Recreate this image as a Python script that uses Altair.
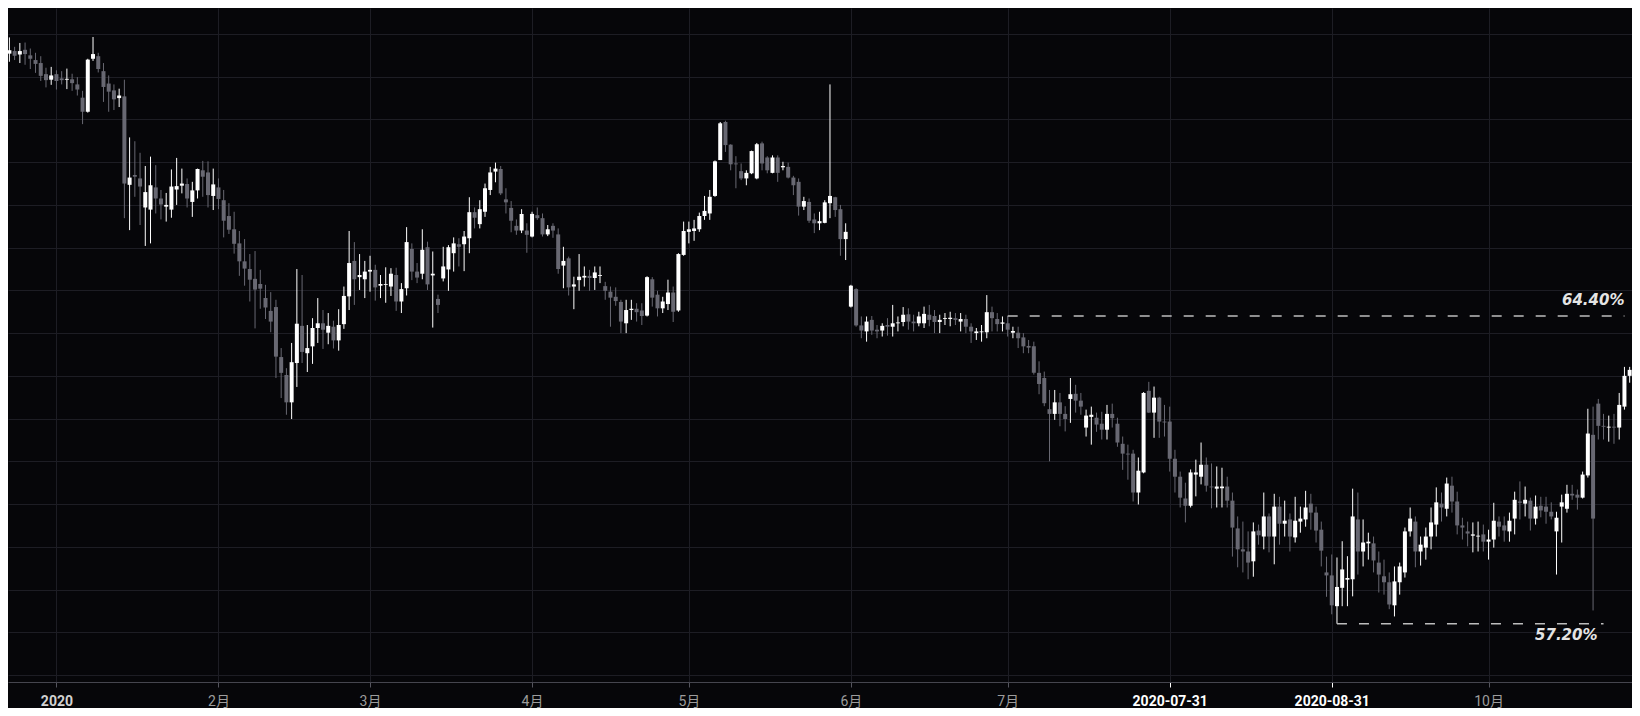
import altair as alt
import pandas as pd

# ---- daily candles (open, high, low, close) in percent, one list per month ----
ohlc_2019_12 = [  # from Dec 22
    (70.15, 70.71, 70.04, 70.60), (70.54, 70.92, 70.35, 70.62), (70.60, 70.70, 70.39, 70.49),
    (70.52, 70.79, 70.32, 70.60), (70.63, 70.80, 70.28, 70.53), (70.50, 70.66, 70.18, 70.42),
    (70.39, 70.56, 70.09, 70.30), (70.32, 70.48, 69.90, 70.02), (70.06, 70.21, 69.75, 69.92),
    (69.93, 70.23, 69.81, 70.03),
]
ohlc_2020_01 = [
    (70.06, 70.15, 69.70, 69.90), (69.96, 70.13, 69.82, 69.92), (69.93, 70.19, 69.71, 69.95),
    (69.94, 70.07, 69.67, 69.85), (69.82, 69.99, 69.56, 69.70), (69.51, 69.67, 68.89, 69.18),
    (69.18, 70.42, 69.16, 70.40), (70.42, 70.93, 70.37, 70.53), (70.48, 70.56, 70.10, 70.18),
    (70.13, 70.32, 69.41, 69.76), (69.84, 70.03, 69.18, 69.65), (69.68, 69.82, 69.22, 69.47),
    (69.50, 69.72, 69.29, 69.56), (69.54, 69.93, 66.69, 67.50), (67.47, 68.58, 66.41, 67.64),
    (67.70, 68.49, 67.19, 67.66), (67.62, 68.22, 66.53, 67.43), (66.94, 67.91, 66.04, 67.30),
    (66.89, 68.13, 66.10, 67.46), (67.41, 67.93, 66.80, 67.15), (67.15, 67.35, 66.66, 67.01),
    (66.96, 67.28, 66.61, 67.00), (66.89, 67.83, 66.70, 67.43), (67.36, 68.10, 67.00, 67.44),
    (67.45, 67.85, 67.27, 67.50), (67.49, 67.62, 66.94, 67.15), (67.07, 67.54, 66.72, 67.34),
    (67.34, 67.85, 67.15, 67.84), (67.81, 68.03, 67.19, 67.66), (67.76, 68.02, 66.94, 67.23),
    (67.21, 67.85, 66.88, 67.48),
]
ohlc_2020_02 = [
    (67.41, 67.62, 66.90, 67.14), (67.11, 67.35, 66.24, 66.63), (66.74, 67.04, 66.32, 66.42),
    (66.43, 66.84, 65.86, 66.09), (66.10, 66.39, 65.34, 65.68), (65.68, 66.20, 65.11, 65.51),
    (65.50, 65.85, 64.74, 65.25), (65.27, 65.92, 64.11, 65.02), (65.15, 65.48, 64.57, 65.04),
    (64.82, 65.13, 64.33, 64.60), (64.52, 64.96, 64.02, 64.27), (64.61, 64.78, 62.95, 63.45),
    (63.44, 63.65, 62.48, 63.07), (63.02, 63.18, 62.09, 62.38), (62.38, 63.77, 61.99, 63.32),
    (63.30, 65.50, 62.74, 64.22), (64.17, 65.36, 63.30, 63.56), (63.53, 64.19, 63.09, 63.65),
    (63.69, 64.35, 63.28, 64.12), (64.12, 64.82, 63.77, 64.23), (64.23, 64.54, 63.63, 64.08),
    (64.01, 64.47, 63.74, 64.17), (64.15, 64.29, 63.64, 63.83), (63.83, 64.56, 63.59, 64.19),
    (64.21, 65.09, 64.10, 64.87), (64.86, 66.39, 64.54, 65.64), (65.69, 66.13, 64.66, 65.26),
    (65.31, 65.85, 65.01, 65.36), (65.26, 65.69, 64.82, 65.44),
]
ohlc_2020_03 = [
    (65.44, 65.81, 64.97, 65.48), (65.48, 65.60, 64.76, 65.07), (65.11, 65.36, 64.82, 65.15),
    (65.13, 65.54, 64.71, 65.15), (65.09, 65.52, 64.87, 65.39), (65.36, 65.53, 64.52, 64.74),
    (64.74, 65.17, 64.47, 65.03), (65.05, 66.48, 64.88, 66.13), (65.97, 66.10, 65.24, 65.44),
    (65.44, 65.64, 65.17, 65.30), (65.39, 66.43, 65.26, 65.95), (66.01, 66.14, 65.01, 65.14),
    (65.35, 65.91, 64.13, 65.39), (64.80, 64.90, 64.47, 64.66), (65.28, 66.02, 65.21, 65.56),
    (65.49, 66.06, 64.99, 66.01), (65.87, 66.24, 65.44, 66.10), (66.08, 66.22, 65.56, 66.02),
    (66.08, 66.39, 65.45, 66.26), (66.22, 67.18, 65.87, 66.83), (66.83, 66.94, 66.45, 66.70),
    (66.55, 67.11, 66.45, 66.90), (66.84, 67.50, 66.72, 67.39), (67.35, 67.89, 67.23, 67.76),
    (67.78, 67.99, 67.53, 67.85), (67.84, 67.91, 67.23, 67.27), (67.13, 67.39, 66.80, 67.06),
    (66.93, 67.09, 66.36, 66.63), (66.51, 66.66, 66.30, 66.40), (66.40, 66.90, 66.34, 66.79),
    (66.40, 66.57, 65.88, 66.30),
]
ohlc_2020_04 = [
    (66.26, 66.84, 66.24, 66.79), (66.76, 66.94, 66.65, 66.69), (66.69, 66.80, 66.26, 66.31),
    (66.31, 66.53, 66.27, 66.43), (66.51, 66.57, 66.23, 66.40), (66.31, 66.45, 65.39, 65.50),
    (65.58, 66.02, 65.05, 65.69), (65.75, 65.79, 64.88, 65.07), (65.09, 65.32, 64.56, 65.14),
    (65.24, 65.85, 64.99, 65.32), (65.30, 65.56, 65.09, 65.34), (65.34, 65.48, 64.99, 65.29),
    (65.29, 65.56, 65.01, 65.42), (65.34, 65.56, 65.17, 65.36), (65.10, 65.20, 64.78, 64.99),
    (64.97, 65.09, 64.15, 64.83), (64.85, 65.07, 64.64, 64.75), (64.73, 64.78, 64.00, 64.27),
    (64.23, 64.78, 64.00, 64.54), (64.54, 64.78, 64.31, 64.57), (64.57, 64.70, 64.27, 64.49),
    (64.53, 64.70, 64.19, 64.40), (64.41, 65.33, 64.39, 65.31), (65.26, 65.31, 64.62, 64.83),
    (64.90, 64.99, 64.39, 64.58), (64.58, 64.85, 64.47, 64.74), (64.68, 65.25, 64.54, 64.95),
    (64.95, 65.09, 64.26, 64.50), (64.53, 65.87, 64.50, 65.85), (65.83, 66.61, 65.81, 66.39),
]
ohlc_2020_05 = [
    (66.37, 66.61, 66.10, 66.43), (66.39, 66.65, 66.16, 66.45), (66.43, 66.82, 66.37, 66.74),
    (66.74, 67.21, 66.65, 66.86), (66.80, 67.35, 66.65, 67.19), (67.21, 68.04, 67.19, 68.02),
    (68.05, 68.94, 68.05, 68.91), (68.94, 68.97, 68.24, 68.40), (68.41, 68.42, 67.81, 67.95),
    (67.97, 68.14, 67.39, 67.95), (67.79, 67.97, 67.58, 67.62), (67.62, 67.81, 67.46, 67.75),
    (67.74, 68.27, 67.72, 68.26), (67.62, 68.45, 67.60, 68.42), (68.44, 68.48, 67.81, 67.97),
    (68.11, 68.14, 67.74, 67.81), (67.75, 68.16, 67.74, 68.11), (68.11, 68.16, 67.54, 67.75),
    (67.88, 68.01, 67.81, 67.91), (67.89, 67.99, 67.62, 67.64), (67.64, 67.68, 67.23, 67.46),
    (67.54, 67.62, 66.75, 66.96), (66.96, 67.19, 66.88, 67.09), (67.07, 67.15, 66.58, 66.63),
    (66.66, 66.80, 66.34, 66.57), (66.57, 66.84, 66.41, 66.62), (66.58, 67.11, 66.57, 67.06),
    (67.04, 69.82, 66.69, 67.21), (67.18, 67.19, 66.72, 66.88), (66.90, 67.00, 65.81, 66.20),
    (66.20, 66.57, 65.71, 66.37),
]
ohlc_2020_06 = [
    (64.62, 65.13, 64.60, 65.11), (65.03, 65.05, 64.15, 64.18), (64.18, 64.39, 63.88, 64.06),
    (64.04, 64.39, 63.80, 64.27), (64.31, 64.40, 63.96, 64.06), (64.08, 64.19, 63.88, 64.04),
    (64.06, 64.23, 63.92, 64.17), (64.19, 64.35, 63.94, 64.15), (64.15, 64.66, 63.92, 64.23),
    (64.23, 64.39, 64.04, 64.25), (64.26, 64.61, 64.16, 64.43), (64.44, 64.58, 64.08, 64.27),
    (64.27, 64.43, 64.04, 64.23), (64.23, 64.50, 64.16, 64.39), (64.23, 64.62, 64.12, 64.45),
    (64.43, 64.66, 64.16, 64.31), (64.40, 64.54, 64.00, 64.26), (64.26, 64.43, 64.00, 64.31),
    (64.33, 64.47, 64.19, 64.35), (64.33, 64.50, 64.16, 64.36), (64.35, 64.47, 64.19, 64.31),
    (64.27, 64.47, 64.04, 64.33), (64.33, 64.43, 64.00, 64.15), (64.15, 64.23, 63.77, 64.04),
    (64.00, 64.12, 63.84, 64.04), (64.02, 64.19, 63.80, 64.04), (64.02, 64.89, 63.88, 64.49),
    (64.49, 64.62, 64.04, 64.35), (64.33, 64.47, 64.04, 64.21), (64.22, 64.39, 64.04, 64.25),
]
ohlc_2020_07 = [
    (64.23, 64.40, 63.92, 64.08), (64.01, 64.15, 63.88, 64.05), (64.01, 64.15, 63.65, 63.88),
    (63.90, 64.00, 63.53, 63.69), (63.70, 63.84, 63.53, 63.66), (63.69, 63.80, 63.03, 63.07),
    (63.07, 63.34, 62.57, 62.81), (62.95, 63.10, 62.29, 62.36), (62.22, 62.67, 61.00, 62.11),
    (62.11, 62.67, 61.97, 62.38), (62.38, 62.60, 61.82, 62.11), (62.11, 62.29, 61.70, 61.99),
    (62.46, 62.95, 61.90, 62.57), (62.58, 62.79, 62.14, 62.42), (62.42, 62.60, 62.09, 62.28),
    (61.79, 62.21, 61.58, 62.07), (62.04, 62.28, 61.39, 62.09), (62.02, 62.14, 61.69, 61.86),
    (61.88, 62.16, 61.51, 61.74), (61.74, 62.32, 61.51, 62.11), (62.11, 62.35, 61.79, 62.01),
    (61.88, 62.02, 61.34, 61.44), (61.41, 61.58, 60.80, 61.18), (61.18, 61.39, 60.57, 61.16),
    (61.18, 61.27, 60.06, 60.27), (60.27, 61.09, 59.99, 60.78), (60.74, 62.62, 60.72, 62.60),
    (62.65, 62.86, 62.13, 62.14), (62.14, 62.75, 61.55, 62.49), (62.49, 62.51, 61.55, 61.93),
    (61.93, 62.32, 61.58, 61.91),
]
ohlc_2020_08 = [
    (61.93, 62.28, 60.76, 61.06), (61.06, 61.27, 60.27, 60.64), (60.64, 60.76, 59.92, 60.15),
    (60.13, 60.50, 59.57, 59.96), (59.96, 60.81, 59.92, 60.74), (60.69, 61.04, 60.18, 60.74),
    (60.64, 61.44, 60.46, 60.92), (60.92, 61.09, 60.29, 60.43), (60.41, 60.95, 59.90, 60.39),
    (60.36, 60.88, 59.92, 60.41), (60.37, 60.85, 59.92, 60.41), (60.41, 60.64, 59.92, 60.08),
    (60.08, 60.27, 58.77, 59.45), (59.43, 59.71, 58.52, 58.94), (58.94, 59.59, 58.40, 58.89),
    (58.89, 59.36, 58.24, 58.63), (58.66, 59.57, 58.30, 59.36), (59.38, 59.52, 59.05, 59.27),
    (59.24, 60.27, 58.94, 59.71), (59.71, 59.78, 58.87, 59.24), (59.24, 60.24, 58.59, 59.94),
    (59.94, 60.17, 59.05, 59.54), (59.54, 60.08, 59.24, 59.61), (59.64, 59.78, 58.89, 59.24),
    (59.22, 60.17, 59.10, 59.61), (59.59, 59.94, 59.33, 59.66), (59.64, 60.31, 59.47, 59.92),
    (60.01, 60.24, 59.40, 59.80), (59.80, 59.94, 59.10, 59.38), (59.40, 59.59, 58.54, 58.91),
    (58.40, 58.77, 57.83, 58.33),
]
ohlc_2020_09 = [
    (58.33, 58.82, 57.42, 57.63), (57.61, 58.75, 57.20, 58.06), (58.04, 59.13, 57.61, 58.47),
    (58.23, 58.78, 57.61, 58.27), (58.24, 60.36, 57.84, 59.71), (59.64, 60.27, 58.35, 58.89),
    (58.89, 59.64, 58.54, 59.10), (59.08, 59.33, 58.70, 59.12), (59.08, 59.24, 58.40, 58.68),
    (58.63, 58.89, 57.93, 58.35), (58.31, 58.70, 57.88, 58.17), (58.17, 58.40, 57.54, 57.65),
    (57.63, 58.54, 57.37, 58.19), (58.17, 58.63, 57.88, 58.54), (58.40, 59.45, 58.28, 59.36),
    (59.36, 59.92, 59.24, 59.66), (59.59, 59.71, 58.52, 58.89), (58.89, 59.24, 58.56, 59.05),
    (58.98, 59.45, 58.70, 59.24), (59.24, 59.92, 58.94, 59.57), (59.52, 60.39, 59.24, 60.04),
    (60.01, 60.27, 59.59, 59.92), (59.89, 60.62, 59.71, 60.48), (60.43, 60.64, 59.80, 60.06),
    (60.06, 60.29, 59.29, 59.50), (59.50, 59.68, 59.17, 59.45), (59.36, 59.59, 59.01, 59.31),
    (59.26, 59.57, 58.87, 59.29), (59.24, 59.59, 58.89, 59.26), (59.29, 59.52, 58.89, 59.12),
]
ohlc_2020_10 = [
    (59.12, 59.40, 58.70, 59.17), (59.17, 60.03, 58.98, 59.61), (59.59, 59.71, 59.24, 59.47),
    (59.50, 59.71, 59.12, 59.38), (59.36, 59.80, 59.12, 59.61), (59.66, 60.29, 59.29, 60.10),
    (60.06, 60.53, 59.64, 60.03), (60.01, 60.41, 59.71, 60.10), (60.08, 60.15, 59.38, 59.66),
    (59.66, 60.20, 59.52, 59.94), (59.96, 60.17, 59.69, 59.85), (59.94, 60.17, 59.54, 59.82),
    (59.82, 60.04, 59.64, 59.71), (59.36, 59.82, 58.35, 59.68), (59.94, 60.22, 59.10, 60.04),
    (59.89, 60.45, 59.80, 60.24), (60.24, 60.45, 60.10, 60.20), (60.22, 60.34, 59.87, 60.15),
    (60.15, 60.76, 60.13, 60.69), (60.67, 62.23, 60.62, 61.65), (61.62, 62.28, 57.51, 59.66),
    (62.35, 62.46, 61.51, 61.83), (61.83, 62.11, 61.51, 61.81), (61.79, 62.07, 61.46, 61.81),
    (61.81, 62.11, 61.41, 61.79), (61.79, 62.60, 61.51, 62.32), (62.28, 63.21, 62.21, 63.00),
    (63.00, 63.21, 62.84, 63.14),
]

month_blocks = [
    ("2019-12-22", ohlc_2019_12), ("2020-01-01", ohlc_2020_01), ("2020-02-01", ohlc_2020_02),
    ("2020-03-01", ohlc_2020_03), ("2020-04-01", ohlc_2020_04), ("2020-05-01", ohlc_2020_05),
    ("2020-06-01", ohlc_2020_06), ("2020-07-01", ohlc_2020_07), ("2020-08-01", ohlc_2020_08),
    ("2020-09-01", ohlc_2020_09), ("2020-10-01", ohlc_2020_10),
]

# x-axis ticks (month starts) and their labels
tick_months = list(range(1, 11))
tick_labels = ["2020", "2月", "3月", "4月", "5月", "6月", "7月", "2020-07-31", "2020-08-31", "10月"]

# marked levels
level_values = [64.40, 57.20]
level_starts = ["2020-07-01", "2020-09-02"]
level_ends = ["2020-10-27", "2020-10-23"]
level_labels = ["64.40%", "57.20%"]

# ---- build tables ----
rows = []
for start, block in month_blocks:
    days = pd.date_range(start, periods=len(block), freq="D")
    for d, (o, h, l, c) in zip(days, block):
        rows.append({"date": d.strftime("%Y-%m-%d"), "open": o, "high": h, "low": l, "close": c})
candles = pd.DataFrame(rows)

levels = pd.DataFrame({"level": level_values, "start": level_starts,
                       "end": level_ends, "label": level_labels})

# ---- styling ----
BG = "#060609"
GRID = "#1d1d24"
UP = "#ffffff"
DOWN = "#686872"

x_scale = alt.Scale(
    type="utc",
    domain=[alt.DateTime(year=2019, month=12, date=23, hours=16, minutes=34, utc=True),
            alt.DateTime(year=2020, month=10, date=27, hours=11, minutes=46, utc=True)],
)
y_scale = alt.Scale(domain=[55.836, 71.608], zero=False, nice=False)

label_expr = "[" + ",".join("'" + t + "'" for t in tick_labels) + "][utcmonth(datum.value)]"
hl_test = "utcmonth(datum.value) == 7 || utcmonth(datum.value) == 8"
first_test = "utcmonth(datum.value) == 0"

x_axis = alt.Axis(
    values=[alt.DateTime(year=2020, month=m, date=1, utc=True) for m in tick_months],
    labelExpr=label_expr, title=None, grid=True, gridColor=GRID, gridWidth=1,
    domain=True, domainColor="#45454e", domainWidth=1,
    ticks=True, tickSize=5, tickWidth=1,
    tickColor={"condition": {"test": hl_test, "value": "#ffffff"}, "value": "#55555e"},
    labelColor={"condition": [{"test": hl_test, "value": "#ffffff"},
                              {"test": first_test, "value": "#d2d2d2"}], "value": "#9c9c9c"},
    labelFontWeight={"condition": [{"test": hl_test, "value": "bold"},
                                   {"test": first_test, "value": "bold"}], "value": "normal"},
    labelFont="Roboto, Noto Sans CJK SC", labelFontSize=14, labelPadding=14,
    labelBaseline="middle", labelAngle=0, labelOverlap=False, labelFlush=False,
)
y_axis = alt.Axis(values=list(range(56, 72)), grid=True, gridColor=GRID, gridWidth=1,
                  labels=False, ticks=False, domain=False, title=None)

color_cond = alt.condition("datum.close >= datum.open", alt.value(UP), alt.value(DOWN))

base = alt.Chart(candles)

wicks = base.mark_rule(strokeWidth=1, clip=True).encode(
    x=alt.X("date:T", scale=x_scale, axis=x_axis),
    y=alt.Y("low:Q", scale=y_scale, axis=y_axis),
    y2="high:Q",
    color=color_cond,
)
bodies = base.mark_bar(size=4, clip=True).encode(
    x=alt.X("date:T", scale=x_scale, axis=x_axis),
    y=alt.Y("open:Q", scale=y_scale, axis=y_axis),
    y2="close:Q",
    color=color_cond,
)

lv = alt.Chart(levels)
dashes = lv.mark_rule(strokeDash=[10, 12], strokeWidth=1.6, color="#bdbdbd").encode(
    x=alt.X("start:T", scale=x_scale, axis=x_axis),
    x2="end:T",
    y=alt.Y("level:Q", scale=y_scale, axis=y_axis),
)
text_style = dict(align="right", baseline="middle", font="DejaVu Sans", fontSize=15,
                  fontStyle="italic", fontWeight="bold", color="#e4e4e4")
label_hi = lv.transform_filter("datum.level > 60").mark_text(dy=-16, **text_style).encode(
    x=alt.X("end:T", scale=x_scale, axis=x_axis),
    y=alt.Y("level:Q", scale=y_scale, axis=y_axis),
    text="label:N",
)
label_lo = lv.transform_filter("datum.level < 60").mark_text(dx=-6, dy=11, **text_style).encode(
    x=alt.X("end:T", scale=x_scale, axis=x_axis),
    y=alt.Y("level:Q", scale=y_scale, axis=y_axis),
    text="label:N",
)

chart = alt.layer(wicks, bodies, dashes, label_hi, label_lo).properties(
    width=1624, height=674, padding=0, background=BG
).configure_view(stroke=None)

chart.save("out.html", embed_options={"renderer": "svg", "actions": False})
